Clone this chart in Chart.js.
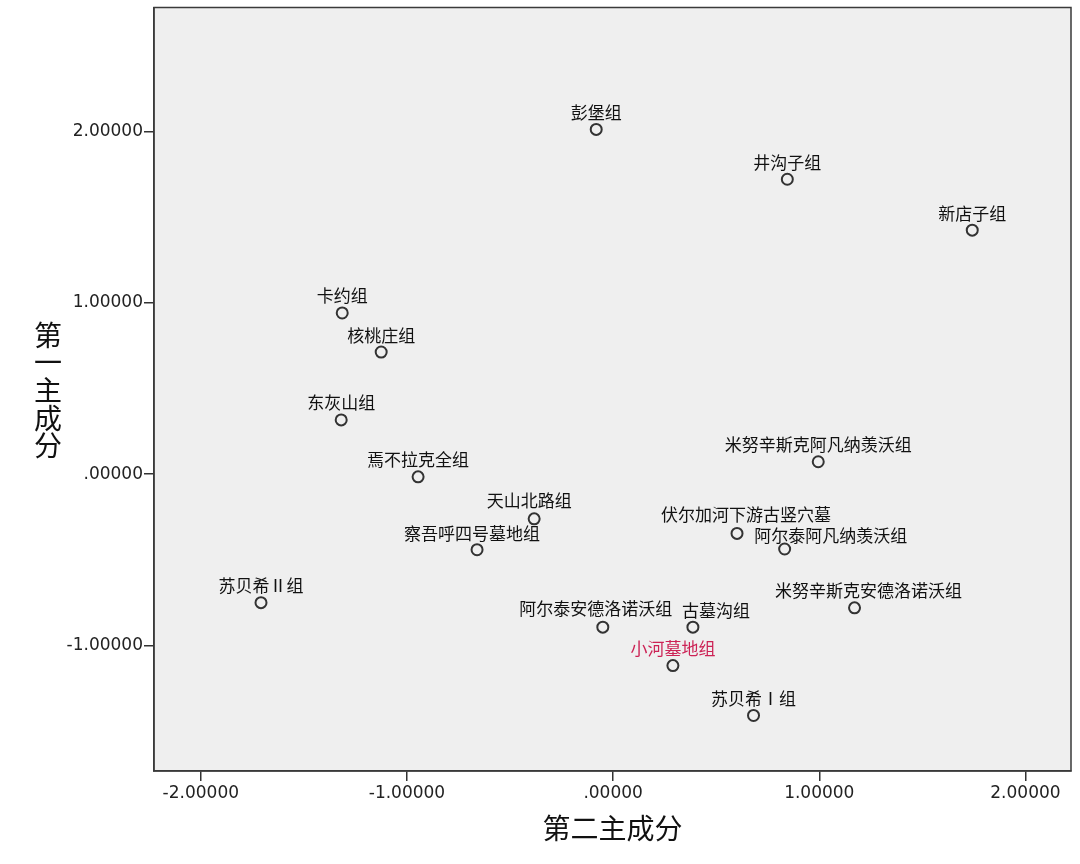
<!DOCTYPE html>
<html>
<head>
<meta charset="utf-8">
<script src="https://cdn.jsdelivr.net/npm/chart.js@4"></script>
<style>
  html, body { margin: 0; padding: 0; background: #fff; }
  #wrap { width: 1080px; height: 864px; }
</style>
</head>
<body>
<div id="wrap"><canvas id="pca"></canvas></div>
<script>
// group names
const groups = ['彭堡组', '井沟子组', '新店子组', '卡约组', '核桃庄组', '东灰山组',
    '米努辛斯克阿凡纳羡沃组', '焉不拉克全组', '天山北路组', '伏尔加河下游古竖穴墓',
    '阿尔泰阿凡纳羡沃组', '察吾呼四号墓地组', '苏贝希Ⅱ组', '米努辛斯克安德洛诺沃组',
    '阿尔泰安德洛诺沃组', '古墓沟组', '小河墓地组', '苏贝希Ⅰ组'];
// second principal component (x)
const pc2 = [-0.082, 0.845, 1.742, -1.314, -1.125, -1.319,
    0.995, -0.946, -0.383, 0.601,
    0.832, -0.660, -1.708, 1.171,
    -0.050, 0.387, 0.290, 0.681];
// first principal component (y)
const pc1 = [2.011, 1.720, 1.423, 0.940, 0.712, 0.316,
    0.072, -0.016, -0.261, -0.346,
    -0.437, -0.441, -0.750, -0.780,
    -0.893, -0.893, -1.117, -1.408];
const tickValues = [-2, -1, 0, 1, 2];
const xTitle = '第二主成分';
const yTitle = '第一主成分';
const highlight = '小河墓地组';

// tick label like SPSS: .00000, -1.00000
function fmt(v) {
    let s = Math.abs(v).toFixed(5);
    if (s.startsWith('0')) s = s.slice(1);
    return (v < 0 ? '-' : '') + s;
}

// label offsets relative to the point (px)
const labelShift = {
    '阿尔泰阿凡纳羡沃组': [46, -13],
    '伏尔加河下游古竖穴墓': [9, -19],
    '米努辛斯克安德洛诺沃组': [14, -17],
    '古墓沟组': [23, -17],
    '阿尔泰安德洛诺沃组': [-7, -19],
    '察吾呼四号墓地组': [-5, -16],
    '天山北路组': [-5, -18]
};

const frame = {
    id: 'frame',
    beforeDraw(chart) {
        const a = chart.chartArea, ctx = chart.ctx;
        ctx.save();
        ctx.fillStyle = '#efefef';
        ctx.fillRect(a.left, a.top, a.right - a.left, a.bottom - a.top);
        ctx.restore();
    },
    afterDraw(chart) {
        const a = chart.chartArea, ctx = chart.ctx;
        ctx.save();
        ctx.strokeStyle = '#3a3a3a';
        ctx.lineWidth = 1.5;
        ctx.strokeRect(a.left, a.top, a.right - a.left, a.bottom - a.top);

        // vertical y title, characters upright
        ctx.fillStyle = '#111';
        ctx.font = '28px "Noto Sans CJK SC"';
        ctx.textAlign = 'center';
        ctx.textBaseline = 'middle';
        Array.from(yTitle).forEach((c, i) => ctx.fillText(c, 48, 335 + i * 27.7));

        // point labels
        const meta = chart.getDatasetMeta(0);
        ctx.font = '17px "Noto Sans CJK SC"';
        meta.data.forEach((pt, i) => {
            const name = groups[i];
            const off = labelShift[name] || [0, -17];
            ctx.fillStyle = name === highlight ? '#cc2255' : '#111';
            ctx.fillText(name, pt.x + off[0], pt.y + off[1]);
        });
        ctx.restore();
    }
};

const ctx = document.getElementById('pca').getContext('2d');
new Chart(ctx, {
    type: 'scatter',
    data: {
        datasets: [{
            data: groups.map((g, i) => ({ x: pc2[i], y: pc1[i] })),
            pointRadius: 5.5,
            pointHoverRadius: 5.5,
            borderColor: '#333',
            borderWidth: 2,
            backgroundColor: 'rgba(0,0,0,0)'
        }]
    },
    options: {
        responsive: true,
        maintainAspectRatio: false,
        animation: false,
        layout: { padding: { top: 6, right: 9, left: 0, bottom: 0 } },
        plugins: { legend: { display: false }, tooltip: { enabled: false } },
        scales: {
            x: {
                type: 'linear',
                min: -2.227,
                max: 2.221,
                afterBuildTicks: s => { s.ticks = tickValues.filter(v => v >= s.min && v <= s.max).map(v => ({ value: v })); },
                afterFit: s => { s.height = 93; },
                grid: { display: true, drawOnChartArea: false, drawTicks: true, tickLength: 10, color: '#333', lineWidth: 1.5 },
                border: { display: true, color: '#3a3a3a', width: 1.5 },
                ticks: {
                    callback: v => fmt(v),
                    font: { family: 'DejaVu Sans', size: 17 },
                    color: '#222',
                    padding: 2,
                    maxRotation: 0
                },
                title: {
                    display: true,
                    text: xTitle,
                    font: { family: 'Noto Sans CJK SC', size: 28 },
                    color: '#111',
                    padding: { top: 0, bottom: 19 }
                }
            },
            y: {
                type: 'linear',
                min: -1.732,
                max: 2.722,
                afterBuildTicks: s => { s.ticks = tickValues.filter(v => v >= s.min && v <= s.max).map(v => ({ value: v })); },
                afterFit: s => { s.width = 154; s.paddingTop = 0; s.paddingBottom = 0; },
                grid: { display: true, drawOnChartArea: false, drawTicks: true, tickLength: 10, color: '#333', lineWidth: 1.5 },
                border: { display: true, color: '#3a3a3a', width: 1.5 },
                ticks: {
                    callback: v => fmt(v),
                    font: { family: 'DejaVu Sans', size: 17 },
                    color: '#222',
                    padding: 1
                }
            }
        }
    },
    plugins: [frame]
});
</script>
</body>
</html>
